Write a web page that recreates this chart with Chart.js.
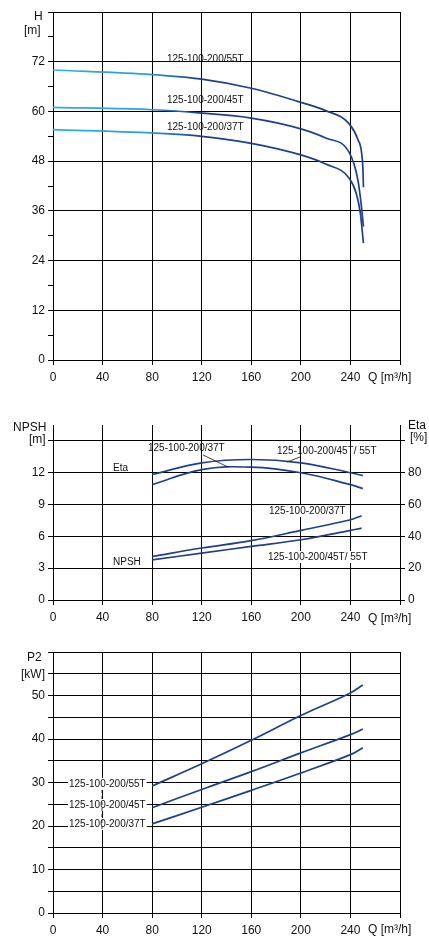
<!DOCTYPE html>
<html><head><meta charset="utf-8">
<script src="https://cdn.jsdelivr.net/npm/chart.js@4/dist/chart.umd.min.js"></script>
<style>
body{margin:0;background:#fff;width:429px;height:941px;position:relative;overflow:hidden}
.c{position:absolute;left:0;width:429px}
</style></head><body>
<div class="c" style="top:0;height:400px"><canvas id="c1"></canvas></div>
<div class="c" style="top:410px;height:225px"><canvas id="c2"></canvas></div>
<div class="c" style="top:640px;height:301px"><canvas id="c3"></canvas></div>
<script>
// ---- data ----
const qH55 = [0, 80, 120, 160, 200, 220, 239, 246, 250, 250.5];
const h55  = [70, 68.9, 67.8, 65.6, 62.2, 60.2, 57, 53.2, 46.7, 41.7];
const qH45 = [0, 80, 120, 160, 200, 220, 239, 246, 248.6, 250.5];
const h45  = [61, 60.4, 59.6, 58.4, 55.8, 53.6, 50.1, 43.5, 37.8, 32.2];
const qH37 = [0, 80, 120, 160, 200, 220, 239, 244.6, 248, 250.5];
const h37  = [55.6, 54.8, 54, 52.3, 49.5, 47.3, 43.9, 40.3, 35.4, 28.2];

const qEta = [80, 120, 160, 200, 240, 250];
const etaUpper = [78.9, 86.2, 88.3, 86.2, 80, 78.2];
const etaLower = [72.5, 82, 83.5, 80, 72.5, 70];
const qNpsh = [80, 120, 160, 200, 240, 249];
const npsh37 = [4.1, 4.9, 5.6, 6.56, 7.57, 7.95];
const npsh4555 = [3.78, 4.42, 5.05, 5.68, 6.56, 6.78];

const qP = [80, 120, 160, 200, 240, 250];
const p55 = [29.2, 34.3, 39.7, 45.4, 50.6, 52.4];
const p45 = [24.2, 28.4, 32.5, 36.8, 41.0, 42.3];
const p37 = [20.5, 24.3, 28.2, 32.2, 36.4, 38];

const qTicks = [0, 40, 80, 120, 160, 200, 240];

// ---- helpers ----
const FONT = '"Liberation Sans", Arial, sans-serif';
const NAVY = '#1f3f8a';
const pts = (xs, ys) => xs.map((x, i) => ({x, y: ys[i]}));
Chart.defaults.font.family = FONT;
Chart.defaults.color = '#111';
Chart.defaults.animation = false;

const textPlugin = {
  id: 'texts',
  afterDraw(chart, args, opts) {
    const c = chart.ctx;
    c.save();
    (opts.items || []).forEach(t => {
      c.font = (t.size || 12) + 'px ' + FONT;
      c.textAlign = t.align || 'left';
      c.textBaseline = 'middle';
      if (t.bg) {
        const w = c.measureText(t.s).width;
        c.fillStyle = '#fff';
        c.fillRect(t.x - 1, t.y - 6, w + 2, 12);
      }
      c.fillStyle = '#111';
      c.fillText(t.s, t.x, t.y);
    });
    (opts.lines || []).forEach(l => {
      c.strokeStyle = '#111'; c.lineWidth = 0.8;
      c.setLineDash(l.dash || []);
      c.beginPath(); c.moveTo(l.x1, l.y1); c.lineTo(l.x2, l.y2); c.stroke();
    });
    c.restore();
  }
};

function xScale(h) {
  return {
    type: 'linear', min: 0, max: 280,
    afterBuildTicks: s => { s.ticks = qTicks.concat([280]).map(v => ({value: v})); },
    afterFit: s => { s.height = h; },
    ticks: {callback: v => v === 280 ? '' : v, font: {size: 12}, padding: 5, maxRotation: 0, color: '#111'},
    grid: {color: '#000', lineWidth: 1, tickLength: 5, tickColor: '#000'},
    border: {color: '#000'}
  };
}
function yScale(min, max, step, labelEvery, fullEvery, maxLabel, pos, w) {
  return {
    type: 'linear', position: pos || 'left', min, max,
    afterFit: s => { s.width = w || 53; },
    ticks: {stepSize: step, font: {size: 12}, padding: 3, color: '#111',
      callback: v => (Math.abs(v / labelEvery - Math.round(v / labelEvery)) < 1e-6 && v <= maxLabel) ? v : ''},
    grid: {lineWidth: 1, tickLength: 5, tickColor: '#000', drawOnChartArea: pos !== 'right',
      color: ctx => (Math.abs(ctx.tick.value / fullEvery - Math.round(ctx.tick.value / fullEvery)) < 1e-6) ? '#000' : 'rgba(0,0,0,0)'},
    border: {color: '#000'}
  };
}
const grad = ctx => {
  const a = ctx.chart.chartArea;
  if (!a) return NAVY;
  const g = ctx.chart.ctx.createLinearGradient(a.left, 0, a.right, 0);
  g.addColorStop(0, '#2aaee6'); g.addColorStop(0.27, '#2aa0d8'); g.addColorStop(0.42, NAVY); g.addColorStop(1, NAVY);
  return g;
};
const ds = (data, color, axis, mono) => ({data, borderColor: color || NAVY, borderWidth: 1.7, pointRadius: 0,
  cubicInterpolationMode: mono ? 'monotone' : 'default', tension: 0.4, fill: false, yAxisID: axis || 'y'});

// ---- chart 1 ----
new Chart(document.getElementById('c1'), {
  type: 'line',
  data: {datasets: [ds(pts(qH55, h55), grad, 'y', true), ds(pts(qH45, h45), grad, 'y', true), ds(pts(qH37, h37), grad, 'y', true)]},
  options: {
    responsive: true, maintainAspectRatio: false,
    layout: {padding: {top: 12, right: 29, left: 0, bottom: 0}},
    scales: {x: xScale(40), y: yScale(0, 84, 6, 12, 12, 72)},
    plugins: {legend: {display: false}, tooltip: {enabled: false},
      texts: {items: [
        {s: 'H', x: 34, y: 17}, {s: '[m]', x: 24, y: 31},
        {s: 'Q [m³/h]', x: 368, y: 378},
        {s: '125-100-200/55T', x: 167, y: 59, size: 10},
        {s: '125-100-200/45T', x: 167, y: 100, size: 10},
        {s: '125-100-200/37T', x: 167, y: 127, size: 10}
      ]}}
  },
  plugins: [textPlugin]
});

// ---- chart 2 ----
new Chart(document.getElementById('c2'), {
  type: 'line',
  data: {datasets: [
    ds(pts(qEta, etaUpper), NAVY, 'y2'), ds(pts(qEta, etaLower), NAVY, 'y2'),
    ds(pts(qNpsh, npsh37)), ds(pts(qNpsh, npsh4555))]},
  options: {
    responsive: true, maintainAspectRatio: false,
    layout: {padding: {top: 15, right: 0, left: 0, bottom: 0}},
    scales: {x: xScale(35), y: yScale(0, 16.5, 1.5, 3, 1.5, 12),
      y2: yScale(0, 110, 10, 20, 10, 80, 'right', 29)},
    plugins: {legend: {display: false}, tooltip: {enabled: false},
      texts: {items: [
        {s: 'NPSH', x: 13, y: 18}, {s: '[m]', x: 29, y: 30},
        {s: 'Eta', x: 408, y: 16}, {s: '[%]', x: 410, y: 28},
        {s: 'Q [m³/h]', x: 368, y: 209},
        {s: 'Eta', x: 113, y: 58, size: 10}, {s: 'NPSH', x: 113, y: 152, size: 10},
        {s: '125-100-200/37T', x: 148, y: 38, size: 10},
        {s: '125-100-200/45T/ 55T', x: 277, y: 41, size: 10},
        {s: '125-100-200/37T', x: 269, y: 101, size: 10, bg: true},
        {s: '125-100-200/45T/ 55T', x: 268, y: 147, size: 10, bg: true}
      ], lines: [
        {x1: 203, y1: 45, x2: 228, y2: 57},
        {x1: 300, y1: 47, x2: 287, y2: 52}
      ]}}
  },
  plugins: [textPlugin]
});

// ---- chart 3 ----
new Chart(document.getElementById('c3'), {
  type: 'line',
  data: {datasets: [ds(pts(qP, p55)), ds(pts(qP, p45)), ds(pts(qP, p37))]},
  options: {
    responsive: true, maintainAspectRatio: false,
    layout: {padding: {top: 12, right: 29, left: 0, bottom: 0}},
    scales: {x: xScale(28), y: yScale(0, 60, 5, 10, 5, 50)},
    plugins: {legend: {display: false}, tooltip: {enabled: false},
      texts: {items: [
        {s: 'P2', x: 27, y: 18}, {s: '[kW]', x: 21, y: 35},
        {s: 'Q [m³/h]', x: 368, y: 290},
        {s: '125-100-200/55T', x: 69, y: 144, size: 10, bg: true},
        {s: '125-100-200/45T', x: 69, y: 165, size: 10, bg: true},
        {s: '125-100-200/37T', x: 69, y: 184, size: 10, bg: true}
      ], lines: [
        {x1: 102, y1: 150, x2: 102, y2: 190, dash: [3, 3]}
      ]}}
  },
  plugins: [textPlugin]
});
</script>
</body></html>
